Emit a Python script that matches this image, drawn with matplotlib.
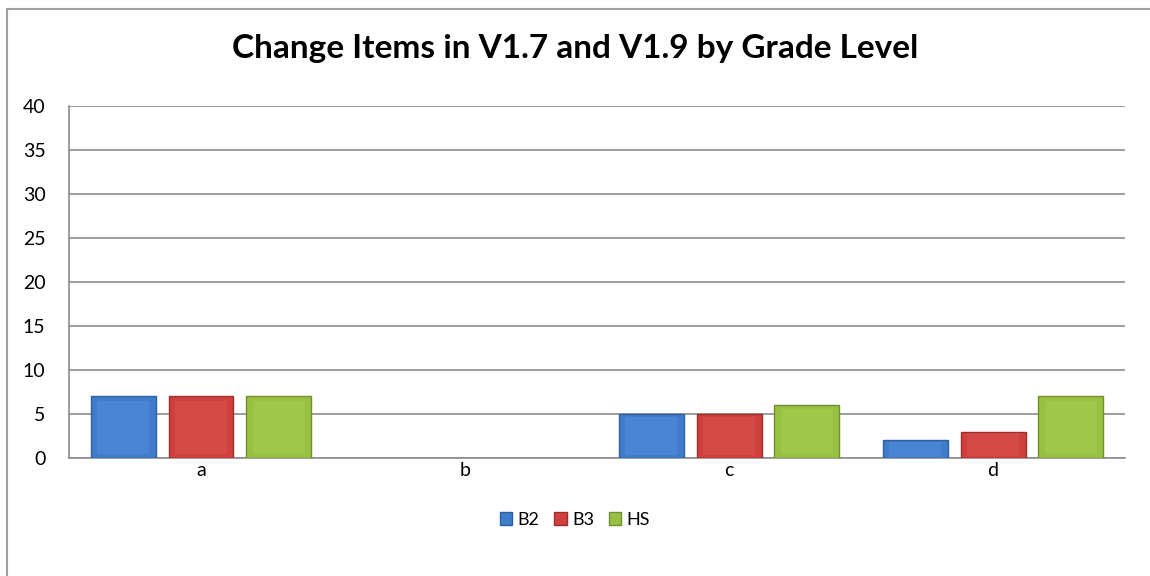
""" Change items by grade level - clustered bar chart."""
import numpy as np
import matplotlib.pyplot as plt
from matplotlib.patches import Rectangle

categories = ['a', 'b', 'c', 'd']
series_names = ['B2', 'B3', 'HS']
b2 = [7, 0, 5, 2]
b3 = [7, 0, 5, 3]
hs = [7, 0, 6, 7]
y_ticks = [0, 5, 10, 15, 20, 25, 30, 35, 40]

face = ['#3f7ccc', '#cf403d', '#98c043']
edge = ['#2d5f9e', '#9c2e2c', '#70902e']
light = ['#5d97e0', '#e05d5a', '#b0d45c']

plt.rcParams['font.family'] = ['Lato', 'DejaVu Sans']

fig = plt.figure(figsize=(11.5, 5.76), dpi=100)
ax = fig.add_axes([0.0600, 0.2049, 0.9183, 0.6111])

# outer chart border (only top and left visible in the crop)
fig.patches.append(Rectangle((7 / 1150, -0.1), 1.2, 1 - 9 / 576 + 0.1, transform=fig.transFigure,
                             fill=False, edgecolor='#a0a0a0', linewidth=1.5))

x = np.arange(len(categories))
width = 0.246
offset = 0.295

for i, vals in enumerate([b2, b3, hs]):
    vals = np.array(vals, dtype=float)
    keep = vals > 0  # empty categories draw nothing
    pos = x[keep] + (i - 1) * offset
    v = vals[keep]
    ax.bar(pos, v, width, color=face[i], edgecolor=edge[i], linewidth=1.0, zorder=3,
           label=series_names[i])
    # rough bevel: lighter inner face
    ax.bar(pos, v * 0.86, width * 0.8, bottom=v * 0.07,
           color=light[i], alpha=0.35, linewidth=0, zorder=4)

ax.set_xlim(-0.5, len(categories) - 0.5)
ax.set_ylim(0, 40)
ax.set_yticks(y_ticks)
ax.set_xticks(x)
ax.set_xticklabels(categories)
ax.yaxis.grid(True, color='#8c8c8c', linewidth=1.2, zorder=0)
ax.set_axisbelow(True)
ax.tick_params(axis='both', length=0, labelsize=14, colors='black')
ax.tick_params(axis='y', pad=17)
ax.tick_params(axis='x', pad=3)
for side in ['top', 'right']:
    ax.spines[side].set_visible(False)
ax.spines['left'].set_color('#8c8c8c')
ax.spines['bottom'].set_color('#8c8c8c')
ax.spines['left'].set_linewidth(1.2)
ax.spines['bottom'].set_linewidth(1.2)

fig.text(0.5, 0.915, 'Change Items in V1.7 and V1.9 by Grade Level', ha='center', va='center',
         fontsize=24, fontweight='bold')

handles = [Rectangle((0, 0), 1, 1, facecolor=face[i], edgecolor=edge[i]) for i in range(3)]
fig.legend(handles, series_names, loc='center', bbox_to_anchor=(0.5, 0.097), ncol=3,
           frameon=False, fontsize=13, handlelength=0.7, handleheight=0.7,
           handletextpad=0.3, columnspacing=0.8)

fig.savefig('out.png', dpi=100)
